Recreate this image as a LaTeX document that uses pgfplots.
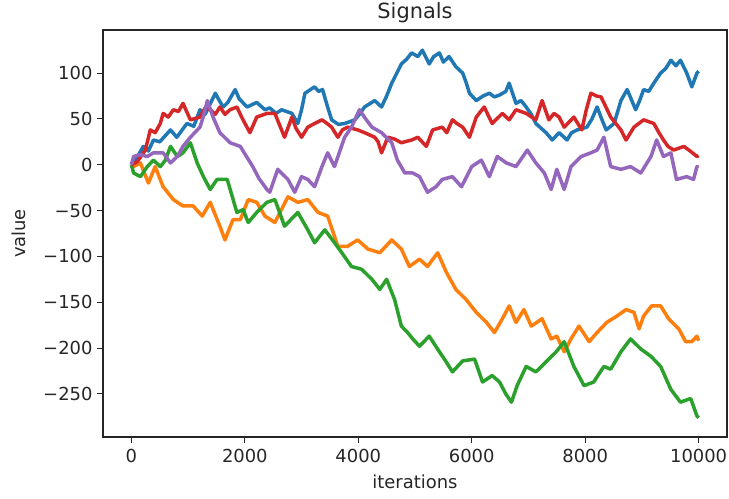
\documentclass[border=0pt]{standalone}
\usepackage{fontspec}
\setmainfont{DejaVu Sans}
\usepackage{pgfplots}
\pgfplotsset{compat=1.18}
\definecolor{c0}{HTML}{1F77B4}
\definecolor{c1}{HTML}{FF7F0E}
\definecolor{c2}{HTML}{2CA02C}
\definecolor{c3}{HTML}{D62728}
\definecolor{c4}{HTML}{9467BD}
\begin{document}
\begin{tikzpicture}
\begin{axis}[
  at={(0,0)}, anchor=south west,
  scale only axis, width=624bp, height=407bp,
  xmin=-500, xmax=10500, ymin=-297, ymax=147,
  scaled x ticks=false, scaled y ticks=false,
  xtick={0,2000,4000,6000,8000,10000},
  xticklabels={0,2000,4000,6000,8000,10000},
  ytick={-250,-200,-150,-100,-50,0,50,100},
  yticklabels={−250,−200,−150,−100,−50,0,50,100},
  /pgf/number format/assume math mode=true,
  tick label style={font=\fontsize{18}{21}\selectfont, color=black!85},
  xticklabel style={yshift=-3bp},
  yticklabel style={xshift=-1bp},
  label style={font=\fontsize{18}{21}\selectfont, color=black!85},
  xlabel style={yshift=-5bp},
  ylabel style={yshift=11bp},
  title style={font=\fontsize{21}{24}\selectfont, color=black!85, yshift=-2bp},
  title={Signals}, xlabel={iterations}, ylabel={value},
  tick align=outside, tick pos=left, major tick length=6bp,
  tick style={line width=1bp, black!85},
  axis line style={line width=1.1bp, black!85},
  every axis plot/.append style={line width=3.5bp, line join=round, no markers},
  clip=true,
]
\addplot[c0] coordinates {(0,0) (100,8) (210,20) (300,15) (390,27) (500,25) (690,38) (800,30) (980,45) (1100,42) (1210,60) (1300,55) (1480,78) (1550,70) (1620,63) (1700,68) (1830,82) (1900,72) (2040,63) (2210,68) (2355,60) (2440,62) (2550,56) (2650,60) (2830,56) (2935,45) (3000,60) (3060,78) (3230,85) (3300,80) (3370,82) (3450,65) (3530,49) (3650,44) (3760,45) (3940,49) (4020,55) (4110,63) (4290,70) (4410,63) (4500,75) (4590,89) (4680,100) (4760,110) (4850,115) (4940,122) (5050,118) (5130,125) (5250,110) (5330,118) (5430,122) (5500,112) (5600,118) (5720,107) (5840,100) (5900,90) (5960,78) (6080,70) (6200,75) (6310,78) (6400,74) (6490,76) (6600,80) (6660,89) (6780,67) (6870,70) (6960,63) (7050,55) (7130,45) (7220,40) (7310,35) (7420,27) (7540,35) (7680,27) (7760,35) (7860,38) (8030,41) (8120,50) (8210,63) (8290,50) (8370,38) (8510,45) (8630,70) (8740,82) (8890,60) (8960,70) (9030,82) (9120,80) (9210,89) (9330,100) (9420,105) (9510,114) (9600,108) (9680,114) (9790,100) (9880,85) (9970,100) (10000,102)};
\addplot[c1] coordinates {(0,0) (40,-2) (160,2) (300,-20) (420,-2) (560,-24) (740,-38) (910,-45) (1090,-45) (1250,-56) (1390,-41) (1560,-67) (1650,-82) (1790,-60) (1920,-60) (2060,-38) (2210,-41) (2355,-56) (2530,-63) (2760,-35) (2935,-41) (3110,-38) (3290,-52) (3460,-56) (3640,-89) (3810,-89) (3990,-82) (4170,-92) (4380,-96) (4590,-82) (4760,-92) (4900,-111) (5080,-103) (5220,-111) (5400,-96) (5550,-117) (5720,-136) (5900,-147) (6080,-161) (6260,-172) (6400,-183) (6540,-168) (6660,-154) (6780,-172) (6920,-158) (7050,-176) (7240,-168) (7400,-190) (7500,-187) (7630,-204) (7750,-190) (7890,-176) (8070,-193) (8210,-183) (8380,-172) (8560,-165) (8720,-158) (8860,-161) (8950,-179) (9030,-165) (9170,-154) (9330,-154) (9470,-168) (9650,-179) (9770,-193) (9880,-193) (9970,-187) (10000,-192)};
\addplot[c2] coordinates {(0,0) (40,-9) (160,-13) (280,-2) (390,5) (510,-2) (600,5) (690,20) (810,9) (910,13) (1040,24) (1160,2) (1270,-13) (1390,-27) (1510,-16) (1690,-16) (1780,-35) (1860,-52) (1970,-49) (2060,-63) (2210,-52) (2390,-41) (2530,-38) (2700,-67) (2935,-52) (3110,-71) (3230,-85) (3410,-71) (3580,-85) (3710,-96) (3880,-111) (4060,-114) (4240,-125) (4380,-136) (4500,-125) (4640,-147) (4760,-176) (4870,-183) (4960,-190) (5080,-198) (5250,-187) (5430,-204) (5550,-215) (5660,-226) (5840,-214) (6050,-212) (6190,-237) (6360,-230) (6490,-237) (6600,-250) (6700,-259) (6800,-241) (6960,-220) (7130,-226) (7310,-215) (7490,-204) (7630,-193) (7800,-220) (7980,-241) (8150,-237) (8330,-220) (8450,-223) (8630,-204) (8800,-190) (8980,-201) (9160,-209) (9330,-220) (9510,-245) (9680,-259) (9860,-255) (9970,-274) (10000,-276)};
\addplot[c3] coordinates {(0,0) (100,3) (246,16) (334,38) (420,35) (510,45) (560,56) (650,52) (740,60) (830,58) (910,67) (1040,49) (1210,52) (1300,62) (1390,60) (1480,55) (1560,63) (1650,55) (1740,60) (1860,63) (1960,50) (2090,35) (2210,52) (2390,56) (2530,56) (2700,30) (2830,52) (2900,40) (3000,30) (3110,41) (3230,45) (3360,49) (3450,45) (3530,41) (3640,30) (3720,38) (3810,41) (3990,38) (4110,35) (4290,30) (4350,25) (4410,13) (4520,30) (4640,28) (4760,24) (4940,27) (5050,30) (5200,20) (5310,38) (5480,41) (5560,35) (5660,49) (5740,45) (5840,41) (5960,30) (6080,52) (6220,63) (6360,45) (6540,56) (6660,49) (6780,60) (6960,56) (7130,49) (7240,70) (7360,49) (7450,56) (7540,52) (7630,41) (7800,52) (7940,38) (8020,60) (8100,78) (8200,75) (8280,74) (8450,52) (8630,38) (8720,27) (8860,41) (9030,49) (9210,45) (9300,35) (9380,27) (9460,20) (9560,16) (9740,20) (9850,15) (9970,9) (10000,10)};
\addplot[c4] coordinates {(0,0) (40,9) (160,11) (280,9) (390,13) (560,13) (690,2) (810,9) (910,20) (1040,30) (1210,41) (1280,55) (1340,70) (1440,52) (1560,35) (1740,24) (1920,20) (2040,8) (2140,-2) (2250,-15) (2390,-27) (2440,-30) (2580,-5) (2760,-16) (2880,-30) (3000,-13) (3110,-16) (3230,-24) (3360,-2) (3460,13) (3580,-2) (3760,30) (3880,41) (4020,60) (4130,50) (4240,41) (4410,35) (4590,24) (4690,5) (4820,-9) (4960,-9) (5080,-13) (5220,-30) (5370,-24) (5480,-16) (5660,-13) (5820,-24) (6000,-2) (6170,5) (6310,-13) (6450,9) (6610,2) (6780,-2) (6980,16) (7130,2) (7280,-9) (7400,-27) (7500,-5) (7630,-27) (7750,-2) (7930,9) (8100,13) (8210,16) (8330,30) (8450,-2) (8630,-5) (8800,-2) (8980,-9) (9160,9) (9260,27) (9380,9) (9510,13) (9610,-16) (9790,-13) (9910,-16) (9970,-2) (10000,-3)};
\end{axis}
\pgfresetboundingbox
\path (-103bp,-62bp) rectangle (626bp,437bp);
\end{tikzpicture}
\end{document}
